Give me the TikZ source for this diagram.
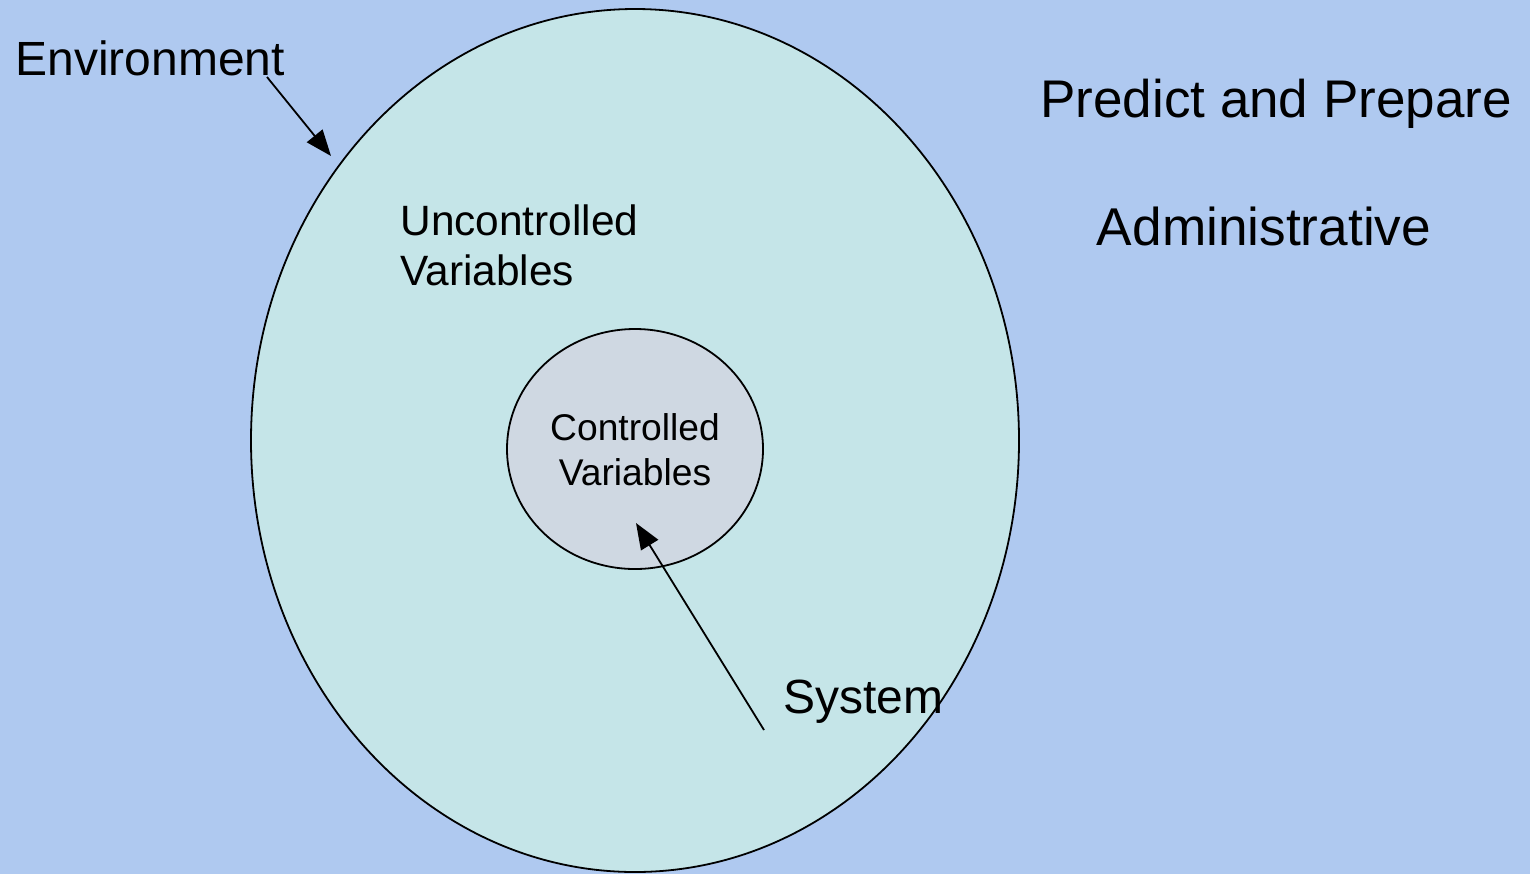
\documentclass[tikz,border=0pt]{standalone}
\usepackage{fontspec}
\setmainfont{Liberation Sans}
\usetikzlibrary{arrows.meta}
\definecolor{bgblue}{RGB}{175,201,240}
\definecolor{envfill}{RGB}{197,229,232}
\definecolor{ctrlfill}{RGB}{207,216,226}
\tikzset{
  lbl/.style={inner sep=0pt, text=black},
  ring/.style={draw=black, line width=0.9pt},
  pointer/.style={draw=black, line width=0.9pt, -{Triangle[length=13pt,width=10pt]}}
}
\begin{document}
\begin{tikzpicture}[x=0.5pt,y=-0.5pt]
  % canvas
  \fill[bgblue] (0,0) rectangle (1530,874);
  \useasboundingbox (0,0) rectangle (1530,874);

  % environment boundary and controlled core
  \draw[ring, fill=envfill] (635,440.5) ellipse [x radius=384, y radius=431.5];
  \draw[ring, fill=ctrlfill] (635,449) ellipse [x radius=128, y radius=120];

  % labels (multi-line nodes are anchored on their last baseline)
  \node[lbl, anchor=base west, font=\fontsize{24}{28}\selectfont] (env) at (15,75) {Environment};
  \node[lbl, anchor=base west, align=left, font=\fontsize{21.2}{25}\selectfont] (unc) at (400,285) {Uncontrolled\\Variables};
  \node[lbl, anchor=base, align=center, font=\fontsize{18.6}{22.5}\selectfont] (ctl) at (635,485) {Controlled\\Variables};
  \node[lbl, anchor=base west, font=\fontsize{24}{28}\selectfont] (sys) at (783,713) {System};
  \node[lbl, anchor=base west, font=\fontsize{26.5}{30}\selectfont] (pp) at (1040,117) {Predict and Prepare};
  \node[lbl, anchor=base, font=\fontsize{26.6}{30}\selectfont] (adm) at (1264,245) {Administrative};

  % arrow end points
  \coordinate (envtail) at (267,77);
  \coordinate (envtip) at (331,156);
  \coordinate (systail) at (764,730);
  \coordinate (systip) at (636,523);

  \draw[pointer] (envtail) -- (envtip);
  \draw[pointer] (systail) -- (systip);
\end{tikzpicture}
\end{document}
